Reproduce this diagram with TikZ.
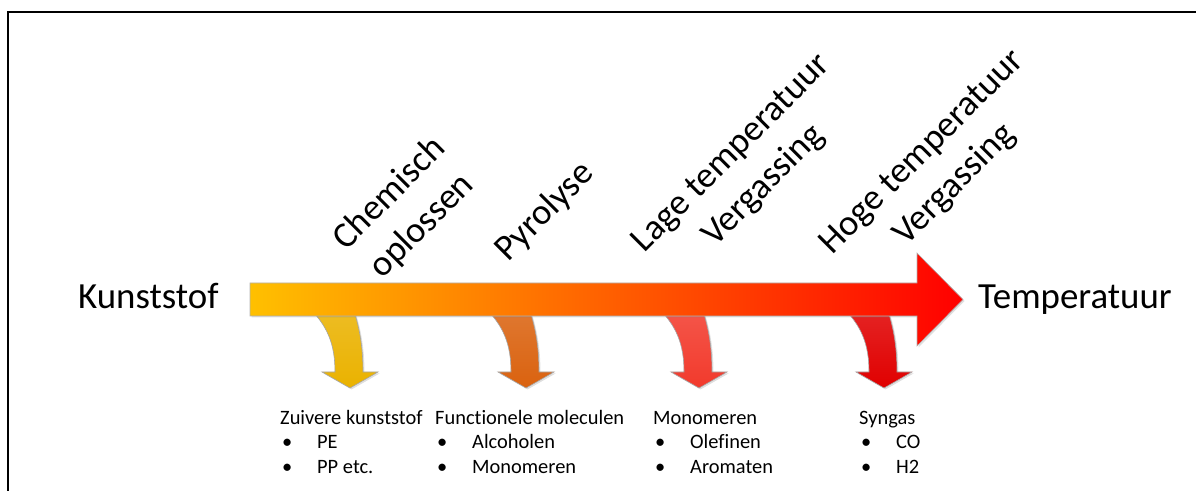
\documentclass[tikz,border=0pt]{standalone}
\usepackage{fontspec}
\setmainfont{Carlito}[Ligatures=NoCommon]
\usetikzlibrary{positioning,calc,shadows}

\definecolor{heatstart}{HTML}{FFC000}
\definecolor{heatmid}{HTML}{FF6A00}
\definecolor{heatend}{HTML}{FF0000}
\newcommand{\bulletitem}[1]{\hspace*{2bp}\makebox[35bp][l]{\textbullet}#1}

\begin{document}
\begin{tikzpicture}[x=1bp, y=-1bp,
            biglabel/.style={font=\fontsize{37}{44}\selectfont, inner sep=0pt},
            stage/.style={font=\fontsize{36.5}{46}\selectfont, align=center, rotate=45, inner sep=0pt},
            product/.style={font=\fontsize{20.5}{24.5}\selectfont, align=left, anchor=base west, inner sep=0pt},
            heatarrow/.style={draw=gray!60, line width=0.6pt, left color=heatstart, middle color=heatmid, right color=heatend,
                drop shadow={opacity=0.25, shadow xshift=1.5bp, shadow yshift=-1.5bp}},
            branch/.style={draw=gray!70, line width=0.6pt, top color=#1!85!white, bottom color=#1,
                drop shadow={opacity=0.25, shadow xshift=1.5bp, shadow yshift=-1.5bp}}]
            
            \useasboundingbox (0,0) rectangle (1196,491);
            % Frame
            \draw[line width=2bp] (8,491) -- (8,12) -- (1196,12);
            
            % Curved branch arrows (drawn first, the main arrow covers their tops)
            \foreach \tip/\col in {350/EAB200, 526/DA620F, 699/F23A2C, 884/E00000} {
                \definecolor{branchcol}{HTML}{\col}
                \draw[branch=branchcol] (\tip-44,305) .. controls (\tip-22,325) and (\tip-15,345) .. (\tip-15,372)
                    -- (\tip-28,372) -- (\tip,388) -- (\tip+28,372) -- (\tip+13,372)
                    .. controls (\tip+13,345) and (\tip+9,325) .. (\tip+2,305) -- cycle;
            }
            
            % Main temperature arrow
            \draw[heatarrow] (250,283) -- (917,283) -- (917,253) -- (963,299.5) -- (917,346) -- (917,316) -- (250,316) -- cycle;
            
            % End labels
            \node[biglabel, anchor=base west] (kunststof) at (78,309) {Kunststof};
            \node[biglabel, anchor=base west] (temperatuur) at (978,309) {Temperatuur};
            
            % Process stages
            \node[stage] (chemisch) at (406,210) {Chemisch\\oplossen};
            \node[stage] (pyrolyse) at (545,212) {Pyrolyse};
            \node[stage] (lagetemp) at (748,170) {Lage temperatuur\\Vergassing};
            \node[stage] (hogetemp) at (939,169) {Hoge temperatuur\\Vergassing};
            
            % Products (base anchor sits on the last line)
            \node[product] (zuiver) at (280,473) {Zuivere kunststof\\\bulletitem{PE}\\\bulletitem{PP etc.}};
            \node[product] (functioneel) at (435,473) {Functionele moleculen\\\bulletitem{Alcoholen}\\\bulletitem{Monomeren}};
            \node[product] (monomeren) at (653,473) {Monomeren\\\bulletitem{Olefinen}\\\bulletitem{Aromaten}};
            \node[product] (syngas) at (859,473) {Syngas\\\bulletitem{CO}\\\bulletitem{H2}};
        \end{tikzpicture}
\end{document}
